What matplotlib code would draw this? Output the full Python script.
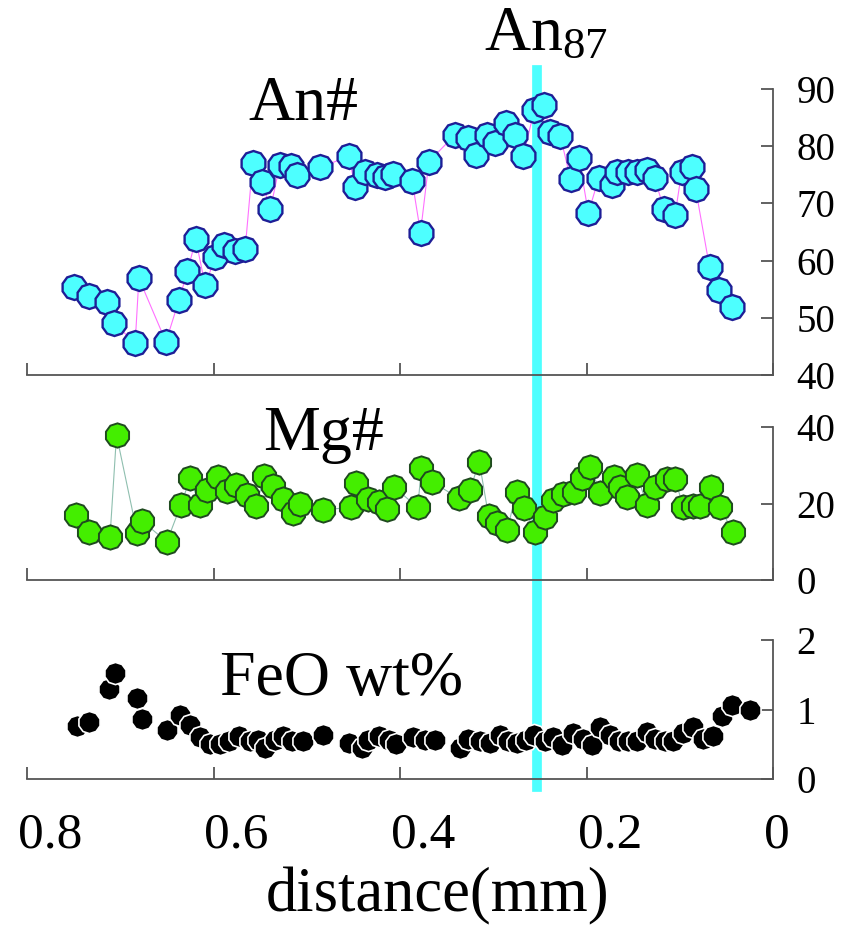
import matplotlib
matplotlib.use('Agg')
import matplotlib.pyplot as plt
from matplotlib.lines import Line2D
from matplotlib import transforms

plt.rcParams['font.family'] = ['Liberation Serif', 'DejaVu Serif']
plt.rcParams['mathtext.fontset'] = 'custom'
plt.rcParams['mathtext.rm'] = 'Liberation Serif'
plt.rcParams['mathtext.it'] = 'Liberation Serif'

# ---------------- data ----------------
an_x = [0.750, 0.734, 0.714, 0.707, 0.684, 0.680, 0.651, 0.637, 0.628, 0.619,
        0.609, 0.598, 0.589, 0.577, 0.566, 0.558, 0.548, 0.539, 0.529, 0.517,
        0.510, 0.486, 0.455, 0.448, 0.438, 0.425, 0.416, 0.407, 0.387, 0.378,
        0.369, 0.341, 0.327, 0.318, 0.307, 0.298, 0.286, 0.277, 0.268, 0.256,
        0.246, 0.239, 0.228, 0.217, 0.208, 0.198, 0.187, 0.173, 0.167, 0.156,
        0.146, 0.135, 0.127, 0.117, 0.105, 0.098, 0.087, 0.083, 0.068, 0.058,
        0.044]
an_y = [55.4, 53.8, 52.7, 49.1, 45.6, 56.9, 45.8, 53.1, 58.1, 63.7,
        55.7, 60.6, 62.7, 61.6, 62.1, 77.0, 73.8, 69.0, 76.7, 76.6,
        75.0, 76.3, 78.2, 72.9, 75.5, 74.9, 74.7, 75.2, 74.0, 64.9,
        77.3, 82.0, 81.4, 78.5, 82.0, 80.6, 84.0, 82.0, 78.2, 86.3,
        87.2, 82.5, 81.7, 74.2, 77.9, 68.3, 74.4, 73.2, 75.5, 75.5,
        75.5, 75.8, 74.4, 69.1, 68.0, 75.5, 76.4, 72.6, 58.8, 54.9,
        51.9]

mg_x = [0.747, 0.733, 0.711, 0.704, 0.682, 0.677, 0.650, 0.635, 0.625, 0.615,
        0.607, 0.595, 0.585, 0.576, 0.564, 0.554, 0.546, 0.536, 0.525, 0.515,
        0.507, 0.483, 0.453, 0.447, 0.434, 0.423, 0.414, 0.406, 0.381, 0.377,
        0.366, 0.337, 0.325, 0.315, 0.305, 0.296, 0.285, 0.275, 0.267, 0.255,
        0.245, 0.236, 0.225, 0.213, 0.205, 0.196, 0.185, 0.171, 0.164, 0.157,
        0.146, 0.135, 0.127, 0.114, 0.105, 0.096, 0.086, 0.078, 0.066, 0.057,
        0.043]
mg_y = [17.0, 12.6, 11.2, 37.9, 12.4, 15.5, 10.0, 19.6, 26.6, 19.6,
        23.5, 27.0, 23.3, 24.8, 22.2, 19.3, 27.2, 24.6, 21.1, 17.4,
        19.9, 18.3, 19.0, 25.4, 21.1, 20.5, 18.5, 24.2, 19.0, 29.2,
        25.7, 21.4, 23.5, 30.9, 16.7, 15.0, 13.1, 23.1, 18.7, 12.6,
        16.6, 20.9, 22.5, 23.1, 26.6, 29.6, 22.8, 27.0, 24.2, 21.6,
        27.5, 19.6, 24.4, 26.3, 26.3, 19.0, 19.3, 19.3, 24.4, 19.0,
        12.6]

feo_x = [0.746, 0.734, 0.712, 0.706, 0.682, 0.677, 0.650, 0.636, 0.625, 0.614,
         0.604, 0.593, 0.583, 0.573, 0.561, 0.552, 0.545, 0.534, 0.525, 0.516,
         0.504, 0.483, 0.455, 0.441, 0.434, 0.423, 0.412, 0.404, 0.386, 0.373,
         0.362, 0.336, 0.327, 0.314, 0.303, 0.293, 0.284, 0.274, 0.265, 0.256,
         0.245, 0.236, 0.226, 0.214, 0.204, 0.194, 0.185, 0.175, 0.165, 0.155,
         0.146, 0.135, 0.127, 0.116, 0.107, 0.096, 0.086, 0.075, 0.064, 0.055,
         0.044, 0.025]
feo_y = [0.76, 0.82, 1.29, 1.52, 1.16, 0.87, 0.70, 0.92, 0.78, 0.61,
         0.50, 0.50, 0.54, 0.62, 0.54, 0.56, 0.44, 0.56, 0.62, 0.55,
         0.55, 0.63, 0.52, 0.44, 0.56, 0.62, 0.56, 0.51, 0.61, 0.56,
         0.56, 0.44, 0.58, 0.54, 0.52, 0.63, 0.55, 0.52, 0.56, 0.63,
         0.55, 0.60, 0.49, 0.66, 0.58, 0.49, 0.75, 0.63, 0.54, 0.54,
         0.55, 0.68, 0.58, 0.54, 0.54, 0.66, 0.75, 0.58, 0.62, 0.90,
         1.06, 1.00]

marker_x = 0.253
x_ticks = [0.8, 0.6, 0.4, 0.2, 0.0]
x_ticklabels = ['0.8', '0.6', '0.4', '0.2', '0']
an_ticks = [40, 50, 60, 70, 80, 90]
mg_ticks = [0, 20, 40]
feo_ticks = [0, 1, 2]

# ---------------- figure ----------------
fig = plt.figure(figsize=(8.5, 9.26), dpi=100)
W, H = 850.0, 926.0
left = 27 / W
width = 746 / W
ax1 = fig.add_axes([left, 1 - 375 / H, width, 286 / H])
ax2 = fig.add_axes([left, 1 - 580 / H, width, 153 / H])
ax3 = fig.add_axes([left, 1 - 779 / H, width, 139 / H])

spine_col = '#555555'
for ax, yl, yt in [(ax1, (40, 90), an_ticks), (ax2, (0, 40), mg_ticks), (ax3, (0, 2), feo_ticks)]:
    ax.set_xlim(0.8, 0.0)
    ax.set_ylim(*yl)
    ax.set_yticks(yt)
    ax.set_xticks(x_ticks)
    for s in ['top', 'left']:
        ax.spines[s].set_visible(False)
    for s in ['bottom', 'right']:
        ax.spines[s].set_color(spine_col)
        ax.spines[s].set_linewidth(1.3)
    ax.yaxis.tick_right()
    ax.tick_params(axis='y', direction='in', length=9, width=1.3, color=spine_col,
                   labelsize=28, pad=17, labelcolor='black')
    ax.tick_params(axis='x', direction='in', length=9, width=1.3, color=spine_col,
                   labelsize=37, pad=24)
    ax.patch.set_alpha(0)

ax1.tick_params(axis='x', labelbottom=False)
ax2.tick_params(axis='x', labelbottom=False)
ax3.set_xticklabels(x_ticklabels)
off = transforms.ScaledTranslation(-9 / 100, 0, fig.dpi_scale_trans)
for lab in ax3.get_xticklabels():
    lab.set_ha('left')
    lab.set_transform(lab.get_transform() + off)

poly = (10, 0, 0)
# An#
ax1.plot(an_x, an_y, '-', color='#ff70ff', lw=0.8, zorder=2, clip_on=False)
ax1.plot(an_x, an_y, linestyle='none', marker=poly, markersize=18,
         markerfacecolor='#4dffff', markeredgecolor='#1e1e96', markeredgewidth=1.7,
         zorder=3, clip_on=False)
# Mg#
ax2.plot(mg_x, mg_y, '-', color='#8fbfaf', lw=0.8, zorder=2, clip_on=False)
ax2.plot(mg_x, mg_y, linestyle='none', marker=poly, markersize=17.5,
         markerfacecolor='#44ee00', markeredgecolor='#1f4a1f', markeredgewidth=1.4,
         zorder=3, clip_on=False)
# FeO
ax3.plot(feo_x, feo_y, linestyle='none', marker=poly, markersize=16,
         markerfacecolor='black', markeredgecolor='white', markeredgewidth=1.2,
         zorder=3, clip_on=False)

# labels inside panels
ax1.text(0.37, 0.892, 'An#', transform=ax1.transAxes, ha='center', va='baseline', fontsize=46)
ax2.text(0.398, 0.85, 'Mg#', transform=ax2.transAxes, ha='center', va='baseline', fontsize=46)
ax3.text(0.422, 0.604, 'FeO wt%', transform=ax3.transAxes, ha='center', va='baseline', fontsize=46)

# vertical cyan line across panels (behind the markers)
tr = transforms.blended_transform_factory(ax3.transData, fig.transFigure)
fig.add_artist(Line2D([marker_x, marker_x], [1 - 787 / H, 1 - 70 / H], transform=tr,
                      color='#4dffff', lw=7, zorder=-1))
fig.text(546 / W, 1 - 50 / H, r'An$_{\mathregular{87}}$', ha='center', va='baseline', fontsize=46)

# x label
fig.text(438 / W, 1 - 911 / H, 'distance(mm)', ha='center', va='baseline', fontsize=45)

fig.savefig('out.png', dpi=100)
